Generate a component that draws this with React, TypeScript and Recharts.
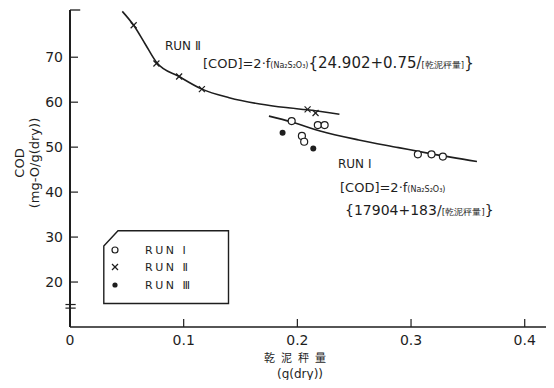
import React from "react";
import {
  ComposedChart,
  Line,
  Scatter,
  XAxis,
  YAxis,
  ReferenceLine,
} from "recharts";

// measured points (dry sludge g, COD mg-O/g)
const run1X = [0.195, 0.204, 0.206, 0.218, 0.224, 0.306, 0.318, 0.328];
const run1Y = [55.8, 52.5, 51.2, 54.9, 54.9, 48.4, 48.4, 47.9];
const run2X = [0.056, 0.076, 0.096, 0.116, 0.209, 0.216];
const run2Y = [77.1, 68.6, 65.7, 62.9, 58.4, 57.6];
const run3X = [0.187, 0.214];
const run3Y = [53.2, 49.7];

// fitted curves
const fit2X = [0.046, 0.056, 0.066, 0.076, 0.096, 0.116, 0.14, 0.167, 0.19, 0.209, 0.237];
const fit2Y = [80.2, 77.1, 73.0, 68.9, 65.7, 62.9, 61.0, 59.6, 58.8, 58.3, 57.3];
const fit1X = [0.175, 0.195, 0.22, 0.254, 0.289, 0.318, 0.358];
const fit1Y = [56.9, 55.6, 53.6, 51.6, 49.9, 48.5, 46.8];

const xTicks = [0, 0.1, 0.2, 0.3, 0.4];
const xTickLabels = ["0", "0.1", "0.2", "0.3", "0.4"];
const yTicks = [20, 30, 40, 50, 60, 70];

const zip = (xs: number[], ys: number[]) => xs.map((x, i) => ({ x, y: ys[i] }));

const INK = "#1e1e1e";
const FONT = "'DejaVu Sans', sans-serif";
const W = 546;
const H = 372;
const PLOT_LEFT = 62;
const PLOT_BOTTOM = 319;

function YTick({ y, payload }: any) {
  return (
    <g>
      <line x1={PLOT_LEFT} x2={PLOT_LEFT + 8} y1={y} y2={y} stroke={INK} strokeWidth={1.2} />
      <text x={55} y={y + 5} textAnchor="end" fontSize={14} fill={INK} fontFamily={FONT}>
        {payload.value}
      </text>
    </g>
  );
}

function XTick({ x, payload, index }: any) {
  return (
    <g>
      {payload.value > 0 && (
        <line x1={x} x2={x} y1={PLOT_BOTTOM} y2={PLOT_BOTTOM - 8} stroke={INK} strokeWidth={1.2} />
      )}
      <text x={x} y={337} textAnchor="middle" fontSize={14} fill={INK} fontFamily={FONT}>
        {xTickLabels[index] ?? payload.value}
      </text>
    </g>
  );
}

const OpenCircle = ({ cx, cy }: any) => (
  <circle cx={cx} cy={cy} r={3.5} fill="#fff" stroke={INK} strokeWidth={1.2} />
);
const Cross = ({ cx, cy }: any) => (
  <g stroke={INK} strokeWidth={1.2}>
    <line x1={cx - 3} y1={cy - 3} x2={cx + 3} y2={cy + 3} />
    <line x1={cx - 3} y1={cy + 3} x2={cx + 3} y2={cy - 3} />
  </g>
);
const Dot = ({ cx, cy }: any) => <circle cx={cx} cy={cy} r={3} fill={INK} />;

function LegendBox() {
  const rows = [
    { label: "RUN Ⅰ", mark: <circle cx={12} cy={20} r={3} fill="none" stroke={INK} strokeWidth={1.2} /> },
    {
      label: "RUN Ⅱ",
      mark: (
        <g stroke={INK} strokeWidth={1.2}>
          <line x1={9} y1={34} x2={15} y2={40} />
          <line x1={9} y1={40} x2={15} y2={34} />
        </g>
      ),
    },
    { label: "RUN Ⅲ", mark: <circle cx={12} cy={55} r={2.6} fill={INK} /> },
  ];
  const ys = [20, 37, 55];
  return (
    <svg width={127} height={75} style={{ display: "block" }}>
      <path d="M0.8,16 L15,0.8 L125.5,0.8 L125.5,73.5 L0.8,73.5 Z" fill="#fff" stroke={INK} strokeWidth={1.4} />
      {rows.map((r, i) => (
        <g key={r.label}>
          {r.mark}
          <text x={42} y={ys[i] + 4} fontSize={11} letterSpacing={2.5} fill={INK} fontFamily={FONT}>
            {r.label}
          </text>
        </g>
      ))}
    </svg>
  );
}

const small: React.CSSProperties = { fontSize: 8 };

function Note({ left, top, size = 13, children }: { left: number; top: number; size?: number; children: React.ReactNode }) {
  return (
    <div
      style={{
        position: "absolute",
        left,
        top,
        transform: "translateY(-50%)",
        fontSize: size,
        lineHeight: 1,
        whiteSpace: "nowrap",
        color: INK,
        fontFamily: FONT,
      }}
    >
      {children}
    </div>
  );
}

export default function App() {
  return (
    <div style={{ position: "relative", width: W, height: H, fontFamily: FONT, background: "#fff" }}>
      <ComposedChart width={W} height={H} margin={{ top: 2, right: 2, bottom: 23, left: 12 }}>
        <XAxis
          type="number"
          dataKey="x"
          domain={[0, 0.424]}
          ticks={xTicks}
          allowDataOverflow
          height={30}
          tickLine={false}
          tick={<XTick />}
          axisLine={{ stroke: INK, strokeWidth: 1.3 }}
        />
        <YAxis
          type="number"
          dataKey="y"
          domain={[10, 80.5]}
          ticks={yTicks}
          allowDataOverflow
          width={50}
          tickLine={false}
          tick={<YTick />}
          axisLine={{ stroke: INK, strokeWidth: 2 }}
        />
        {/* arrow stub at top of y axis and the axis break */}
        <ReferenceLine
          segment={[{ x: 0, y: 80.5 }, { x: 0.009, y: 80.5 }]}
          stroke={INK}
          strokeWidth={1.3}
          ifOverflow="visible"
        />
        <ReferenceLine
          segment={[{ x: -0.004, y: 15.0 }, { x: 0.005, y: 15.0 }]}
          stroke={INK}
          strokeWidth={1.2}
          ifOverflow="visible"
        />
        <ReferenceLine
          segment={[{ x: -0.004, y: 14.2 }, { x: 0.005, y: 14.2 }]}
          stroke={INK}
          strokeWidth={1.2}
          ifOverflow="visible"
        />
        <Line
          data={zip(fit2X, fit2Y)}
          dataKey="y"
          type="monotone"
          stroke={INK}
          strokeWidth={1.6}
          dot={false}
          isAnimationActive={false}
        />
        <Line
          data={zip(fit1X, fit1Y)}
          dataKey="y"
          type="monotone"
          stroke={INK}
          strokeWidth={1.6}
          dot={false}
          isAnimationActive={false}
        />
        <Scatter data={zip(run1X, run1Y)} dataKey="y" shape={<OpenCircle />} isAnimationActive={false} />
        <Scatter data={zip(run2X, run2Y)} dataKey="y" shape={<Cross />} isAnimationActive={false} />
        <Scatter data={zip(run3X, run3Y)} dataKey="y" shape={<Dot />} isAnimationActive={false} />
      </ComposedChart>

      {/* legend */}
      <div style={{ position: "absolute", left: 95, top: 222 }}>
        <LegendBox />
      </div>

      {/* y axis title */}
      <div
        style={{
          position: "absolute",
          left: 19,
          top: 155,
          transform: "translate(-50%, -50%) rotate(-90deg)",
          textAlign: "center",
          fontSize: 13,
          lineHeight: "15px",
          whiteSpace: "nowrap",
          color: INK,
        }}
      >
        COD
        <br />
        (mg-O/g(dry))
      </div>

      {/* x axis title */}
      <div
        style={{
          position: "absolute",
          left: 290,
          top: 349,
          transform: "translate(-50%, -50%)",
          fontSize: 11,
          letterSpacing: 6,
          whiteSpace: "nowrap",
          color: INK,
          lineHeight: 1,
          fontFamily: "'Noto Sans CJK JP', sans-serif",
        }}
      >
        乾泥秤量
      </div>
      <div
        style={{
          position: "absolute",
          left: 292,
          top: 366,
          transform: "translate(-50%, -50%)",
          fontSize: 12,
          whiteSpace: "nowrap",
          color: INK,
          lineHeight: 1,
        }}
      >
        (g(dry))
      </div>

      <Note left={157} top={38} size={12}>
        RUN Ⅱ
      </Note>
      <Note left={195} top={55} size={13}>
        [COD]=2·f<span style={small}>(Na₂S₂O₃)</span>
        <span style={{ fontSize: 15 }}>{"{"}24.902+0.75/</span>
        <span style={{ fontSize: 8.5 }}>[乾泥秤量]</span>
        <span style={{ fontSize: 15 }}>{"}"}</span>
      </Note>
      <Note left={330} top={156} size={12}>
        RUN Ⅰ
      </Note>
      <Note left={332} top={179} size={13}>
        [COD]=2·f<span style={small}>(Na₂S₂O₃)</span>
      </Note>
      <Note left={337} top={202} size={14}>
        {"{"}17904+183/<span style={{ fontSize: 9 }}>[乾泥秤量]</span>
        {"}"}
      </Note>
    </div>
  );
}
